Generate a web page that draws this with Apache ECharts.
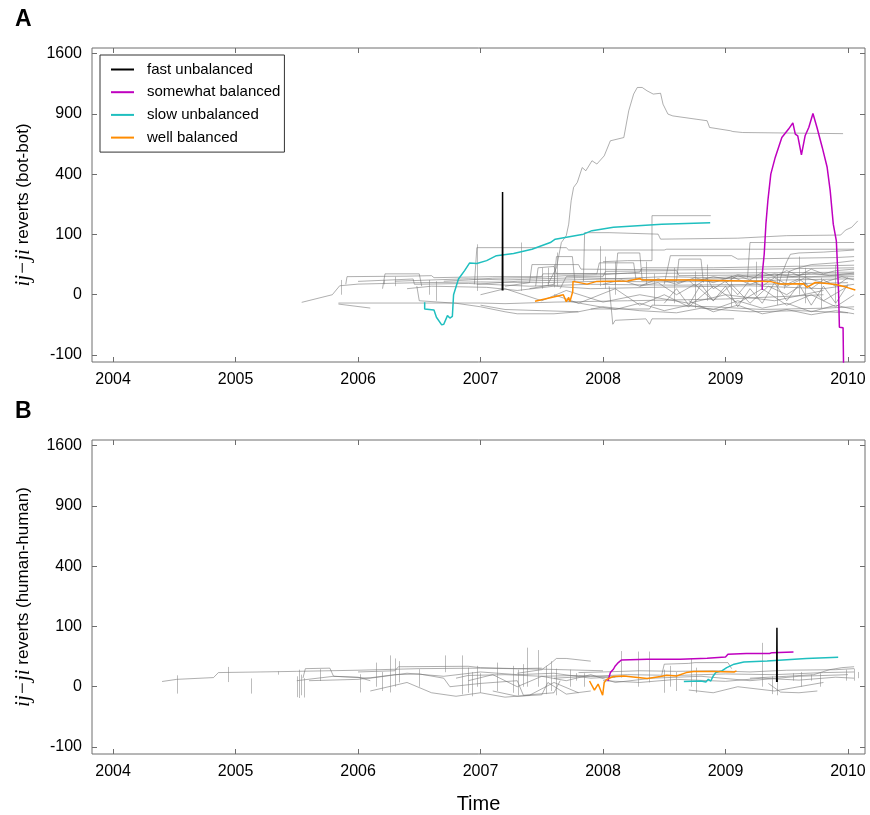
<!DOCTYPE html>
<html><head><meta charset="utf-8">
<script src="https://cdn.jsdelivr.net/npm/echarts@6/dist/echarts.min.js"></script>
<style>html,body{margin:0;padding:0;background:#fff}#c{width:870px;height:815px}</style>
</head><body><div id="c"></div>
<script>
// ---------- tick labels ----------
const xYears = [2004, 2005, 2006, 2007, 2008, 2009, 2010];
const yTicks = [-100, 0, 100, 400, 900, 1600];
const seriesNames = ['fast unbalanced', 'somewhat balanced', 'slow unbalanced', 'well balanced'];
const seriesColors = ['#000000', '#bf00bf', '#1fbfbf', '#ff8c00'];

// ---------- panel A (bot-bot): [year, reverts] ----------
const botFast = [[2007.178, 0.5], [2007.18, 290], [2007.182, 0.5]];
const botSomewhat = [[2009.30, 0.6], [2009.30, 11.8], [2009.316, 45], [2009.33, 137], [2009.346, 243], [2009.37, 400],
  [2009.406, 519], [2009.46, 681], [2009.515, 755], [2009.55, 813], [2009.57, 710], [2009.59, 695], [2009.62, 538],
  [2009.65, 695], [2009.68, 770], [2009.714, 904], [2009.747, 770], [2009.79, 597], [2009.83, 447], [2009.855, 297],
  [2009.88, 137], [2009.905, 80], [2009.915, 20], [2009.923, 0.4], [2009.93, -29], [2009.96, -30], [2009.964, -140]];
const botSlow = [[2006.544, -1.6], [2006.544, -5.6], [2006.62, -6.4], [2006.64, -14], [2006.683, -25], [2006.70, -24],
  [2006.73, -12], [2006.75, -15], [2006.77, -13], [2006.78, 0], [2006.82, 6.8], [2006.87, 16], [2006.91, 27.6],
  [2006.97, 27], [2007.05, 32], [2007.13, 42], [2007.27, 47], [2007.42, 57], [2007.57, 75], [2007.61, 85],
  [2007.84, 101], [2007.91, 113], [2008.085, 125], [2008.48, 137], [2008.875, 143]];
const botWell = [[2007.445, -1.2], [2007.676, 0], [2007.70, -1.3], [2007.72, -0.2], [2007.73, -1.3], [2007.753, 0.3],
  [2007.755, 4.9], [2007.87, 3.1], [2007.95, 4.9], [2008.20, 5.2], [2008.30, 7.3], [2008.32, 5.9], [2008.685, 5.9],
  [2009.04, 5.4], [2009.365, 4.9], [2009.447, 3.1], [2009.637, 3.3], [2009.665, 1.5], [2009.733, 4.1], [2009.83, 3.5],
  [2009.91, 2.7], [2009.99, 1.5], [2010.06, 0.6]];
const botOther = [
  [[2005.54, -1.6], [2005.79, 0], [2005.85, 2.2], [2006.0, 3.1], [2006.5, 4], [2007.0, 4.5], [2007.5, 4], [2008.0, 5], [2008.5, 4.5], [2009.0, 5], [2009.5, 6], [2010.05, 7]],
  [[2006.0, 4.9], [2006.45, 6.8], [2006.46, 3], [2006.9, 3.5], [2007.4, 2], [2007.9, 3], [2008.6, 2.5], [2009.3, 3], [2010.0, 4]],
  [[2005.84, -2.4], [2006.1, -4.9]],
  [[2005.84, -1.9], [2006.5, -1.9], [2007.0, -1.9], [2007.2, -2.2], [2007.6, -1.5], [2008.2, -1], [2009.0, -0.5], [2009.8, 0]],
  [[2005.9, 3], [2005.91, 9], [2006.4, 9.5], [2006.6, 10], [2006.62, 8], [2007.1, 9], [2007.5, 9], [2007.51, 12], [2008.2, 12.5], [2009.0, 13], [2010.05, 14]],
  [[2006.4, 1], [2006.6, 2], [2007.05, 1.5], [2007.3, 0.5], [2007.6, 2], [2007.9, 1], [2008.4, 1.5], [2009.2, 2.2], [2009.8, 1], [2010.05, 3]],
  [[2006.97, 3], [2007.3, 5], [2007.7, 6], [2008.1, 7], [2008.6, 6], [2009.3, 8], [2010.05, 9]],
  [[2006.95, 3], [2006.97, 61], [2007.7, 61], [2007.72, 55], [2008.5, 55], [2008.52, 57], [2010.05, 57]],
  [[2007.84, 5], [2007.85, 106], [2008.05, 106], [2008.45, 101], [2008.47, 85], [2009.1, 88], [2009.5, 96], [2009.94, 98], [2009.98, 115], [2010.03, 125], [2010.08, 150]],
  [[2008.0, 30], [2008.2, 32], [2008.40, 32], [2008.40, 172], [2008.88, 172]],
  [[2008.05, 2], [2008.08, -24], [2008.1, -18], [2008.35, -16], [2008.38, -24], [2008.4, -16], [2009.07, -16]],
  [[2007.9, -5.6], [2008.38, -5.6], [2008.4, -3], [2008.9, -4], [2009.3, -6], [2009.8, -5], [2010.05, -4]],
  [[2008.5, 3], [2008.55, 42], [2009.05, 42], [2009.1, 35], [2009.9, 38], [2010.05, 40]],
  [[2009.18, 8], [2009.2, 75], [2010.05, 75]],
  [[2009.43, 2], [2009.46, 12], [2009.5, 30], [2009.53, 45], [2009.6, 48], [2009.8, 50], [2010.05, 55]],
  [[2009.48, 1], [2009.52, 15], [2009.6, 20], [2009.7, 25], [2009.9, 28], [2010.05, 32]],
  [[2007.0, -3], [2007.2, -6], [2007.5, -7], [2007.8, -8], [2008.0, -4], [2008.3, -7], [2008.6, -9], [2008.8, -5], [2009.2, -8], [2009.6, -7], [2010.0, -9]],
  [[2006.7, 5], [2006.9, 6], [2007.1, 7.5], [2007.4, 8], [2007.7, 10], [2008.0, 11], [2008.3, 14], [2008.32, 20], [2008.9, 20], [2009.5, 22], [2010.05, 24]],
  [[2007.2, 2], [2007.4, 4], [2007.42, 25], [2007.8, 25], [2007.82, 18], [2008.6, 17], [2009.3, 18], [2010.05, 20]],
  [[2007.6, 0], [2007.8, -2], [2008.1, 1], [2008.3, -3], [2008.5, 0], [2008.7, -4], [2008.9, 2], [2009.1, -2], [2009.3, 1], [2009.5, -3], [2009.7, 0], [2009.9, -4], [2010.05, 0]],
  [[2008.6, 4], [2008.7, 6], [2008.75, 2], [2008.85, 7], [2008.9, 1], [2009.0, 5], [2009.1, 0], [2009.2, 6], [2009.3, 2], [2009.4, 8], [2009.5, 3], [2009.6, 7], [2009.7, 1], [2009.8, 6], [2009.9, 2], [2010.0, 8]],
  [[2008.5, -2], [2008.6, 1], [2008.7, -3], [2008.8, 3], [2008.9, -1], [2009.0, 2], [2009.1, -4], [2009.2, 1], [2009.3, -2], [2009.4, 4], [2009.5, -1], [2009.6, 3], [2009.7, -3], [2009.8, 2], [2009.9, -2], [2010.0, 3]],
  [[2007.65, 1], [2007.7, 9], [2008.0, 9], [2008.02, 15], [2008.6, 16], [2008.62, 10], [2009.4, 11], [2010.05, 12]],
  [[2007.45, 2], [2007.47, 20], [2007.6, 22], [2007.62, 12], [2007.95, 12], [2007.97, 28], [2008.25, 28], [2008.27, 6]],
  [[2008.1, 3], [2008.12, 48], [2008.3, 48], [2008.32, 6], [2008.6, 5], [2008.62, 35], [2008.8, 35], [2008.82, 4]],
  [[2007.4, 1], [2007.6, 3], [2007.62, 40], [2007.75, 40], [2007.77, 5]],
  [[2008.7, -1], [2008.9, -8], [2009.1, -3], [2009.3, -10], [2009.5, -6], [2009.7, -11], [2009.9, -7], [2010.05, -10]],
  [[2009.0, 4], [2009.1, 10], [2009.2, 6], [2009.3, 14], [2009.4, 9], [2009.5, 16], [2009.6, 10], [2009.7, 18], [2009.8, 12], [2009.9, 16], [2010.05, 18]],
  [[2006.2, 1], [2006.22, 12], [2006.5, 12], [2006.52, 2]],
  [[2007.0, 0], [2007.2, 1], [2007.5, -1], [2007.7, 0.5], [2008.0, -1.5], [2008.3, 0], [2008.7, -2], [2009.0, 0], [2009.4, -1], [2009.8, 0.5]],
  [[2006.48, 2], [2006.5, -1], [2006.8, -2], [2007.0, -4], [2007.2, -8], [2007.3, -10], [2007.6, -10], [2007.8, -8]],
  [[2008.8, 6], [2008.9, 9], [2009.0, 7], [2009.1, 11], [2009.25, 8], [2009.4, 12], [2009.55, 9], [2009.7, 13], [2009.85, 10], [2010.05, 13]],
  [[2008.3, 2], [2008.45, 4], [2008.6, 0], [2008.75, 3], [2008.9, -1], [2009.05, 3], [2009.2, -2], [2009.35, 2], [2009.5, 0], [2009.65, 4], [2009.8, -1], [2010.0, 2]],
  [[2008.0, 3], [2008.15, 6], [2008.3, 2], [2008.45, 7], [2008.6, 3], [2008.75, 8], [2008.9, 4], [2009.05, 9], [2009.2, 3], [2009.35, 7], [2009.5, 2], [2009.65, 8], [2009.8, 4], [2009.95, 9], [2010.05, 6]],
  [[2007.7, -1], [2007.9, -3], [2008.1, -6], [2008.3, -2], [2008.5, -7], [2008.7, -3], [2008.9, -6], [2009.1, -1], [2009.3, -5], [2009.5, -2], [2009.7, -8], [2009.9, -3], [2010.05, -6]],
  [[2006.3, 5], [2006.6, 6], [2006.9, 7], [2007.2, 6], [2007.5, 7], [2007.8, 8], [2008.1, 7], [2008.5, 9], [2008.9, 8], [2009.3, 10], [2009.7, 9], [2010.05, 11]],
  [[2007.55, 3], [2007.62, 20], [2007.66, 75], [2007.70, 96], [2007.72, 137], [2007.74, 243], [2007.76, 317], [2007.79, 347],
   [2007.83, 445], [2007.86, 423], [2007.91, 494], [2007.95, 470], [2008.01, 531], [2008.06, 652], [2008.17, 680], [2008.21, 931],
   [2008.25, 1108], [2008.28, 1182], [2008.32, 1182], [2008.36, 1144], [2008.41, 1108], [2008.47, 1117], [2008.49, 999],
   [2008.53, 898], [2008.57, 880], [2008.76, 848], [2008.85, 833], [2008.87, 770], [2009.04, 740], [2009.06, 733], [2009.14, 724], [2009.96, 714]]
];
const botSpikes = [[2006.97, 0.4, 70], [2007.33, 0.4, 75], [2007.5, 1, 20], [2007.55, 2, 20], [2007.6, 1.5, 25], [2007.63, 2, 49],
  [2007.98, 2, 65], [2008.02, 1, 40], [2008.1, 0, 30], [2008.35, 3, 30], [2008.42, -3, 12], [2008.58, -2, 20], [2008.75, -5, 15],
  [2008.85, -1, 25], [2009.05, -4, 10], [2009.25, 0, 30], [2009.42, -3, 12], [2009.6, 0, 40], [2009.65, -2, 20], [2009.78, -5, 8],
  [2009.9, -2, 25], [2006.3, 2, 9], [2006.58, 0, 6], [2005.86, 0, 6], [2006.21, 3, 6], [2006.64, -1, 5]];

// ---------- panel B (human-human): [year, reverts] ----------
const humFast = [[2009.418, 0.6], [2009.42, 96], [2009.422, 0.6]];
const humSomewhat = [[2008.04, 0.9], [2008.06, 5.5], [2008.085, 8.4], [2008.10, 11.9], [2008.125, 16], [2008.15, 19.7],
  [2008.36, 20.8], [2008.63, 20.8], [2008.85, 22.4], [2009.0, 24.4], [2009.02, 29], [2009.17, 30.3], [2009.36, 30.3],
  [2009.38, 32], [2009.555, 33.3]];
const humSlow = [[2008.66, 0.75], [2008.8, 0.9], [2008.84, 0.6], [2008.86, 1.5], [2008.88, 0.9], [2008.9, 3.2], [2008.92, 5.5],
  [2008.97, 6.9], [2009.01, 10], [2009.07, 14], [2009.15, 16.9], [2009.34, 18.3], [2009.66, 21.9], [2009.92, 24]];
const humWell = [[2007.89, 0.9], [2007.93, -0.3], [2007.96, 0.2], [2007.997, -2], [2008.01, 0.5], [2008.03, 1.5], [2008.085, 2.9],
  [2008.17, 3.2], [2008.36, 1.9], [2008.47, 2.9], [2008.52, 3.6], [2008.6, 3.2], [2008.68, 5.5], [2008.74, 6.3], [2008.9, 6.3],
  [2009.07, 6], [2009.09, 6.9]];
const humOther = [
  [[2004.4, 0.75], [2004.52, 1.5], [2004.82, 2.3], [2004.86, 5.5], [2005.2, 6], [2005.5, 6.5], [2006.0, 7.5], [2006.5, 9], [2007.0, 9.5], [2007.5, 8.5], [2008.0, 7]],
  [[2005.55, 2], [2005.57, 9], [2005.77, 9.5], [2005.8, 3], [2006.0, 2.5], [2006.1, 1]],
  [[2005.6, 1], [2006.0, 1.5], [2006.3, 4], [2006.5, 4.5], [2006.7, 2], [2006.75, 0], [2007.0, 0.3], [2007.3, 1], [2007.35, -2], [2007.6, -1], [2007.65, 1]],
  [[2006.0, 6], [2006.3, 7], [2006.33, 11], [2006.9, 11.5], [2007.0, 10], [2007.3, 9], [2007.5, 9.5]],
  [[2006.1, -0.5], [2006.4, 0.5], [2006.6, -1], [2006.8, -2.5], [2007.0, -1], [2007.2, -3], [2007.4, -2], [2007.6, 0.5], [2007.8, -1]],
  [[2006.8, 2], [2006.9, 3.5], [2007.2, 4], [2007.5, 3], [2007.8, 3.5], [2008.1, 2.5]],
  [[2007.1, -0.5], [2007.3, -2.5], [2007.5, -1.8], [2007.55, 0.5], [2007.7, -1.5], [2007.9, -0.5]],
  [[2007.3, 5], [2007.5, 8], [2007.58, 16], [2007.62, 22], [2007.7, 22], [2007.9, 18]],
  [[2007.6, 2], [2007.9, 3], [2008.2, 4], [2008.6, 3.5], [2009.0, 4.5], [2009.4, 4], [2009.8, 5.5], [2010.05, 6]],
  [[2008.0, 1], [2008.3, 0.5], [2008.6, 1.5], [2009.0, 0.8], [2009.3, 2], [2009.6, 1.2], [2009.9, 2.5], [2010.05, 2]],
  [[2008.48, 4], [2008.5, 14], [2008.7, 15], [2008.75, 16], [2009.02, 16], [2009.05, 9]],
  [[2009.2, 2], [2009.5, 3], [2009.72, 4], [2009.85, 8], [2009.95, 10], [2010.05, 11]],
  [[2009.35, 0.3], [2009.45, -0.8], [2009.6, -1], [2009.75, -0.5]],
  [[2008.7, -0.3], [2008.9, -1], [2009.1, 0], [2009.4, -0.5], [2009.8, 0.5]],
  [[2007.8, 5.5], [2008.0, 6], [2008.3, 7], [2008.6, 6.5], [2008.9, 7], [2009.2, 6], [2009.5, 7.5], [2009.9, 8], [2010.05, 9]],
  [[2005.5, 1], [2005.8, 3], [2006.1, 2], [2006.4, 5], [2006.7, 3], [2007.0, 6], [2007.3, 4], [2007.6, 5], [2007.9, 2], [2008.2, 3]],
  [[2006.9, 1], [2007.1, 4], [2007.3, 0], [2007.5, 3], [2007.7, 1], [2007.9, 4], [2008.1, 0.5], [2008.4, 2], [2008.8, 3], [2009.2, 1], [2009.6, 3], [2010.0, 4]]
];
const humSpikes = [[2004.52, -1.3, 3.6], [2004.94, 0.6, 10.8], [2005.13, -1.3, 1.9], [2005.35, 4, 6.5], [2005.5, -3, 3],
  [2005.52, -3.5, 8], [2005.54, -2, 4], [2005.56, -3.2, 2], [2005.69, 0.9, 8.5], [2006.02, -0.9, 4.3], [2006.15, 0, 16],
  [2006.2, -0.5, 6], [2006.26, -0.9, 27], [2006.3, 0, 22], [2006.34, 0.5, 18], [2006.5, 0, 8.5], [2006.71, 5.8, 27],
  [2006.85, -1.6, 27], [2006.9, -1, 10], [2006.93, -2.5, 6], [2006.97, 0, 12], [2007.0, -1, 5], [2007.14, -0.5, 16],
  [2007.27, -1, 12], [2007.31, -2, 8], [2007.35, 0, 14], [2007.38, 0, 42], [2007.47, 0, 37], [2007.54, -1.5, 12],
  [2007.58, -0.5, 18], [2007.62, -2, 9], [2007.73, 0, 8], [2007.78, 1, 5], [2007.85, 0, 5], [2008.15, 2.3, 35],
  [2008.29, 0, 34], [2008.38, 0.5, 34], [2008.5, -1, 8], [2008.55, 0, 12], [2008.6, -0.5, 6], [2008.72, 0, 22],
  [2008.76, -1, 10], [2009.3, 0, 53], [2009.38, -1.5, 3], [2009.42, -2, 2], [2009.55, 1, 5], [2009.62, 0, 6],
  [2009.7, 1, 4], [2009.77, 0, 5], [2009.99, 1, 8], [2010.05, 1, 9], [2010.08, 2, 6]];

// ---------- helpers ----------
const sq = v => v < 0 ? -Math.sqrt(-v) : Math.sqrt(v);
const tf = pts => pts.map(p => [p[0], sq(p[1])]);
const FONT = 'Liberation Sans, Arial, sans-serif';
const X_MIN = 2003.828, X_MAX = 2010.139;
const Y_MIN = -11.16, Y_MAX = 40.93;
const AX_COLOR = '#6e6e6e';

function xAx(grid, pos, labels, name) {
  return {
    type: 'value', gridIndex: grid, position: pos, min: X_MIN, max: X_MAX,
    axisLine: { show: false, onZero: false },
    splitLine: { show: false },
    axisTick: { show: true, inside: true, length: 5, lineStyle: { color: AX_COLOR }, customValues: xYears },
    axisLabel: { show: labels, customValues: xYears, color: '#000', fontSize: 16, fontFamily: FONT, margin: 10, formatter: v => String(Math.round(v)) },
    name: name || '', nameLocation: 'middle', nameGap: 40,
    nameTextStyle: { color: '#000', fontSize: 20, fontFamily: FONT }
  };
}
function yAx(grid, pos, labels, name) {
  const vals = yTicks.map(sq);
  return {
    type: 'value', gridIndex: grid, position: pos, min: Y_MIN, max: Y_MAX,
    axisLine: { show: false, onZero: false },
    splitLine: { show: false },
    axisTick: { show: true, inside: true, length: 5, lineStyle: { color: AX_COLOR }, customValues: vals },
    axisLabel: { show: labels, customValues: vals, color: '#000', fontSize: 16, fontFamily: FONT, margin: 10,
      formatter: v => String(Math.round(v < 0 ? -v * v : v * v)) },
    name: name || '', nameLocation: 'middle', nameRotate: 90, nameGap: 58,
    nameTextStyle: {
      color: '#000', fontSize: 17, fontFamily: FONT,
      rich: { m: { fontFamily: 'Liberation Serif, DejaVu Serif, serif', fontStyle: 'italic', fontSize: 21, color: '#000' } }
    }
  };
}

const series = [];
function addPanel(grid, other, spikes, lines) {
  series.push({
    type: 'lines', coordinateSystem: 'cartesian2d', xAxisIndex: grid * 2, yAxisIndex: grid * 2, polyline: true,
    silent: true, clip: true,
    lineStyle: { color: '#707070', width: 0.8, opacity: 0.7 },
    data: other.map(l => ({ coords: tf(l) }))
  });
  series.push({
    type: 'lines', coordinateSystem: 'cartesian2d', xAxisIndex: grid * 2, yAxisIndex: grid * 2, polyline: false,
    silent: true, clip: true,
    lineStyle: { color: '#808080', width: 0.8, opacity: 0.65 },
    data: spikes.map(s => ({ coords: [[s[0], sq(s[1])], [s[0], sq(s[2])]] }))
  });
  lines.forEach((d, i) => {
    series.push({
      type: 'line', name: seriesNames[i], xAxisIndex: grid * 2, yAxisIndex: grid * 2,
      data: tf(d), symbol: 'none', showSymbol: false, clip: true, z: 5 + (i === 0 ? 1 : 0),
      lineStyle: { color: seriesColors[i], width: 1.5 }, itemStyle: { color: seriesColors[i] }
    });
  });
}
addPanel(0, botOther, botSpikes, [botFast, botSomewhat, botSlow, botWell]);
addPanel(1, humOther, humSpikes, [humFast, humSomewhat, humSlow, humWell]);

const chart = echarts.init(document.getElementById('c'), null, { renderer: 'canvas' });
chart.setOption({
  animation: false,
  backgroundColor: '#fff',
  grid: [
    { left: 92, top: 48, width: 773, height: 314, show: true, borderColor: AX_COLOR, borderWidth: 1, backgroundColor: 'transparent' },
    { left: 92, top: 440, width: 773, height: 314, show: true, borderColor: AX_COLOR, borderWidth: 1, backgroundColor: 'transparent' }
  ],
  xAxis: [xAx(0, 'bottom', true), xAx(0, 'top', false), xAx(1, 'bottom', true, 'Time'), xAx(1, 'top', false)],
  yAxis: [
    yAx(0, 'left', true, '{m|ij\u2212ji} reverts (bot-bot)'), yAx(0, 'right', false),
    yAx(1, 'left', true, '{m|ij\u2212ji} reverts (human-human)'), yAx(1, 'right', false)
  ],
  legend: {
    data: seriesNames, orient: 'vertical', left: 100, top: 55,
    padding: [7, 4, 7, 10], itemWidth: 23, itemHeight: 14, itemGap: 7.7,
    borderColor: '#333', borderWidth: 1, backgroundColor: '#fff',
    itemStyle: { opacity: 0 },
    textStyle: { color: '#000', fontSize: 15, fontFamily: FONT, padding: [0, 0, 0, 8] },
    selectedMode: false
  },
  graphic: [
    { type: 'text', left: 15, top: 8, style: { text: 'A', font: 'bold 23px ' + FONT, fill: '#000' } },
    { type: 'text', left: 15, top: 400, style: { text: 'B', font: 'bold 23px ' + FONT, fill: '#000' } }
  ],
  series: series
});
</script>
</body></html>
